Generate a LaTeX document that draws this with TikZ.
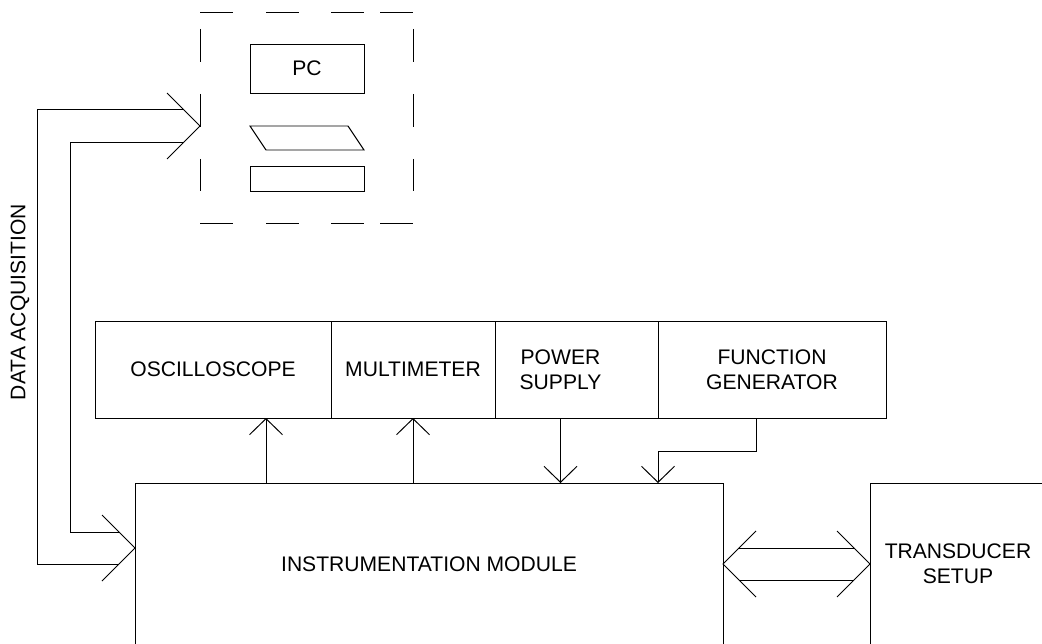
\documentclass[tikz,border=0pt]{standalone}
\usepackage{fontspec}
\setmainfont{Liberation Sans}
\usetikzlibrary{arrows.meta,positioning,calc}
\newcommand{\pxu}{0.025cm}
\tikzset{
  cell/.style={draw,outer sep=0pt,inner sep=0pt,minimum height=97*\pxu,align=center},
  blk/.style={draw,outer sep=0pt,inner sep=0pt,align=center},
  sig/.style={-{Straight Barb[length=11.4pt,width=23.5pt]}},
}

\begin{document}
\begin{tikzpicture}[x=\pxu,y=-\pxu,line width=0.7pt,font=\fontsize{15}{18}\selectfont]
\path[use as bounding box] (0,0) rectangle (1042,644);
\clip (0,0) rectangle (1042,644);
% PC frame
\foreach \a/\b in {200/233,266/299,331/364,380/413} {
  \draw (\a,12) -- (\b,12);
  \draw (\a,223) -- (\b,223);
}
\foreach \a/\b in {29/62,94/127,159/191} {
  \draw (200,\a) -- (200,\b);
  \draw (413,\a) -- (413,\b);
}
\node[blk,minimum width=114*\pxu,minimum height=49*\pxu] (pc) at (307,68.5) {PC};
\draw (250,126) -- (348,126) -- (364,150) -- (266,150) -- cycle;
\draw (250,166) rectangle (364,191);
\coordinate (pcin) at (200,126);
% instruments
\node[cell,minimum width=236*\pxu] (osc) at (213,369.5) {OSCILLOSCOPE};
\node[cell,minimum width=164*\pxu,right=0pt of osc] (mult) {MULTIMETER};
\node[cell,minimum width=163*\pxu,right=0pt of mult] (pow) {};
\node[cell,minimum width=228*\pxu,right=0pt of pow] (fgen) {FUNCTION\\GENERATOR};
\node[align=center] (powtxt) at ([xshift=-16*\pxu]pow.center) {POWER\\SUPPLY};
\node[blk,minimum width=588*\pxu,minimum height=162*\pxu] (mod) at (429,564) {INSTRUMENTATION MODULE};
\node[blk,minimum width=176*\pxu,minimum height=162*\pxu] (trans) at (958,564) {TRANSDUCER\\SETUP};
\node[rotate=90] (daq) at (20,302) {DATA ACQUISITION};
% single arrows
\draw[sig] ([xshift=53*\pxu]osc.south |- mod.north) -- ([xshift=53*\pxu]osc.south);
\draw[sig] (mult.south |- mod.north) -- (mult.south);
\draw[sig] ([xshift=-16*\pxu]pow.south) -- ([xshift=-16*\pxu]pow.south |- mod.north);
\draw[sig] ([xshift=-16*\pxu]fgen.south) -- ++(0,33) -| (fgen.south west |- mod.north);
% data acquisition
\coordinate (modin) at ([yshift=16*\pxu]mod.west);
\draw (pcin) ++(-33,-33) -- (pcin) -- ++(-33,33);
\draw (modin) ++(-33,-33) -- (modin) -- ++(-33,33);
\draw ($(pcin)+(-17,-17)$) -| (37,564) -- ($(modin)+(-16,16)$);
\draw ($(pcin)+(-16,16)$) -| (70,532) -- ($(modin)+(-16,-16)$);
% module <-> transducer
\draw ([shift={(33,-33)}]mod.east) -- (mod.east) -- ++(33,33);
\draw ([shift={(-33,-33)}]trans.west) -- (trans.west) -- ++(-33,33);
\draw ([shift={(16,-16)}]mod.east) -- ([shift={(-16,-16)}]trans.west);
\draw ([shift={(16,16)}]mod.east) -- ([shift={(-16,16)}]trans.west);
\end{tikzpicture}
\end{document}
